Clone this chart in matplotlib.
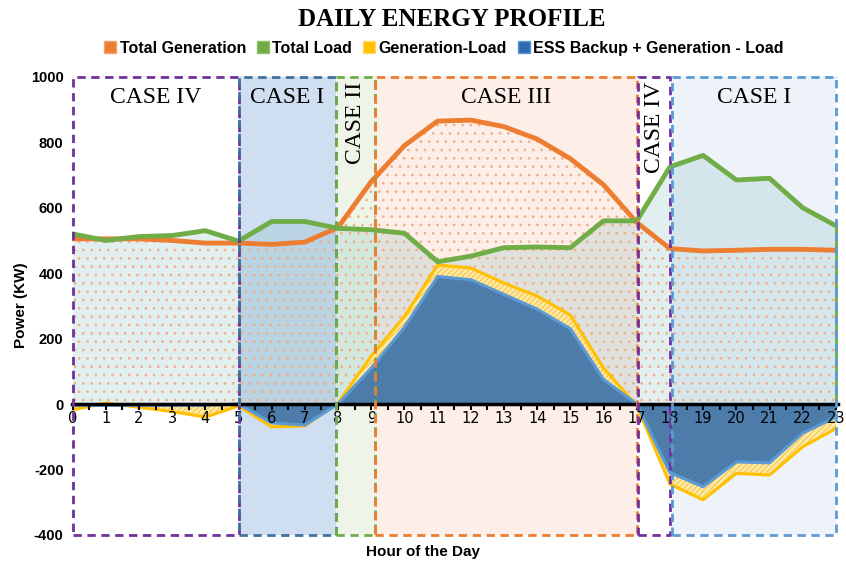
import matplotlib as mpl
import matplotlib.pyplot as plt
from matplotlib.lines import Line2D
import numpy as np

mpl.rcParams["hatch.linewidth"] = 0.7
mpl.rcParams["axes.unicode_minus"] = False

# data
hours = np.arange(24)
generation = [505, 505, 505, 500, 492, 492, 488, 495, 540, 680, 790, 865,
              868, 848, 810, 750, 670, 555, 475, 468, 470, 473, 473, 470]
load = [520, 500, 512, 515, 530, 498, 558, 558, 537, 533, 522, 435,
        452, 478, 480, 478, 560, 560, 725, 760, 685, 690, 600, 545]
gen_minus_load = [-18, 3, -10, -23, -40, -6, -70, -67, 3, 147, 268, 425,
                  416, 370, 330, 272, 110, -5, -245, -293, -212, -217, -131, -75]
ess_backup = [-4, -4, -4, -4, -4, 0, -58, -64, 0, 110, 235, 390,
              380, 335, 290, 230, 75, 0, -210, -253, -177, -180, -89, -40]

case_names = ["CASE IV", "CASE I", "CASE II", "CASE III", "CASE IV", "CASE I"]
case_start = [0, 5, 7.95, 9.1, 17.05, 18.05]
case_end = [5, 7.95, 9.1, 17.0, 18.0, 23.0]
case_vertical = [False, False, True, False, True, False]
case_fill = ["#FFFFFF", "#CFDEF0", "#EEF5E8", "#FDEEE8", "#FFFFFF", "#EEF3FA"]
case_edge = ["#7030A0", "#41719C", "#70AD47", "#ED7D31", "#7030A0", "#5B9BD5"]

fig = plt.figure(figsize=(8.46, 5.66), dpi=100)
ax = fig.add_axes([0.085, 0.055, 0.905, 0.812])

# case boxes (fill)
for s, e, fc in zip(case_start, case_end, case_fill):
    ax.fill_between([s, e], -400, 1000, color=fc, zorder=1, lw=0)

ax.set_axisbelow(True)
ax.grid(axis="y", color="#D0D0D0", lw=1)

# areas
ax.fill_between(hours, load, 0, color="#6FB0B0", alpha=0.2, lw=0, zorder=2)
ax.fill_between(hours, generation, 0, facecolor="none", edgecolor="#F3AE85",
                hatch="..", lw=0, zorder=2.2)
ax.fill_between(hours, gen_minus_load, 0, facecolor="#FFE9A8", edgecolor="#F8C030",
                hatch="//////", lw=0, zorder=3)
ax.plot(hours, gen_minus_load, color="#FFC000", lw=2.2, zorder=3.2)
ax.fill_between(hours, ess_backup, 0, color="#2E6BB0", alpha=0.85, lw=0, zorder=4)
ax.plot(hours, ess_backup, color="#5B9BD5", lw=2.2, zorder=4.2)

# lines
ax.plot(hours, generation, color="#ED7D31", lw=3.5, zorder=5)
ax.plot(hours, load, color="#70AD47", lw=3.5, zorder=5.5)
ax.vlines(hours[-1], 0, load[-1], color="#70AD47", lw=2, zorder=5.5)

# case boxes (dashed edges + labels)
for name, s, e, ec, vert in zip(case_names, case_start, case_end, case_edge, case_vertical):
    ax.plot([s, e, e, s, s], [-400, -400, 1000, 1000, -400], color=ec, lw=2,
            ls=(0, (3, 2)), zorder=7, clip_on=False)
    if vert:
        ax.text((s + e) / 2, 985, name, rotation=90, ha="center", va="top",
                fontsize=17, family="Liberation Serif", zorder=8)
    else:
        ax.text((s + e) / 2, 970, name, ha="center", va="top",
                fontsize=17, family="Liberation Serif", zorder=8)

ax.set_xlim(-0.02, 23.05)
ax.set_ylim(-400, 1005)
ax.set_xticks(hours)
ax.set_xticks(hours[:-1] + 0.5, minor=True)
ax.set_yticks(np.arange(-400, 1001, 200))
ax.tick_params(axis="x", which="both", direction="out", length=4, width=1.5,
               labelsize=10.5, pad=1)
ax.tick_params(axis="y", length=0, labelsize=10.5, pad=6)
for lb in ax.get_xticklabels() + ax.get_yticklabels():
    lb.set_fontweight("bold")
    lb.set_family("Liberation Sans")

for sp in ["top", "right", "left"]:
    ax.spines[sp].set_visible(False)
ax.spines["bottom"].set_position(("data", 0))
ax.spines["bottom"].set_linewidth(2.5)
ax.spines["bottom"].set_zorder(6)
ax.xaxis.set_zorder(6.5)

ax.set_ylabel("Power (KW)", fontsize=11, fontweight="bold", family="Liberation Sans", labelpad=2)
fig.text(0.5, 0.018, "Hour of the Day", ha="center", fontsize=11, fontweight="bold",
         family="Liberation Sans")

fig.text(0.534, 0.966, "DAILY ENERGY PROFILE", ha="center", va="center", fontsize=18,
         fontweight="bold", family="Liberation Serif")

handles = [
    Line2D([], [], marker="s", ls="", markersize=8, markerfacecolor="#ED7D31", markeredgecolor="#F4A070"),
    Line2D([], [], marker="s", ls="", markersize=8, markerfacecolor="#70AD47", markeredgecolor="#8CC168"),
    Line2D([], [], marker="s", ls="", markersize=8, markerfacecolor="#FFC000", markeredgecolor="#FFD966"),
    Line2D([], [], marker="s", ls="", markersize=8, markerfacecolor="#2E6BB0", markeredgecolor="#5B9BD5"),
]
labels = ["Total Generation", "Total Load", "Generation-Load", "ESS Backup + Generation - Load"]
fig.legend(handles, labels, loc="center", bbox_to_anchor=(0.525, 0.915), ncol=4, frameon=False,
           handlelength=0.7, handletextpad=0.25, columnspacing=0.7,
           prop={"family": "Liberation Sans", "weight": "bold", "size": 11.5})

fig.savefig("out.png", dpi=100)
